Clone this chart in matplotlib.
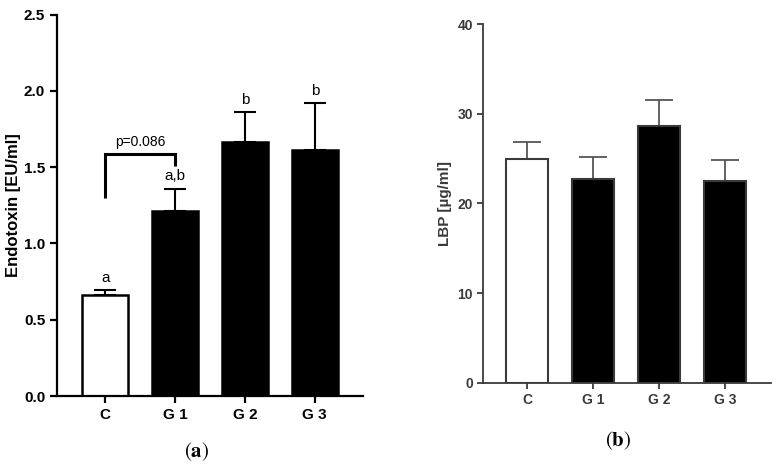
import matplotlib
matplotlib.use("Agg")
import matplotlib.pyplot as plt

groups = ["C", "G 1", "G 2", "G 3"]

# panel a: endotoxin
endo_mean = [0.66, 1.21, 1.667, 1.614]
endo_err = [0.035, 0.15, 0.196, 0.306]
endo_letters = ["a", "a,b", "b", "b"]
endo_ticks = [0.0, 0.5, 1.0, 1.5, 2.0, 2.5]

# panel b: LBP
lbp_mean = [25.0, 22.7, 28.6, 22.5]
lbp_err = [1.8, 2.5, 2.9, 2.3]
lbp_ticks = [0, 10, 20, 30, 40]

bar_colors = ["white", "black", "black", "black"]

plt.rcParams['font.family'] = ['Liberation Sans', 'DejaVu Sans']

fig = plt.figure(figsize=(7.8, 4.71), dpi=100)
x = list(range(len(groups)))

# ---- panel a ----
ax1 = fig.add_axes([0.0731, 0.1592, 0.3923, 0.8096])
ax1.bar(x, endo_mean, width=0.66, color=bar_colors, edgecolor="black", linewidth=1.8, zorder=2)
ax1.errorbar(x, endo_mean, yerr=[[0] * 4, endo_err], fmt="none", ecolor="black",
             elinewidth=1.5, capsize=8, capthick=1.5, zorder=1)
for xi, m, e, lab in zip(x, endo_mean, endo_err, endo_letters):
    ax1.text(xi, m + e + 0.035, lab, ha="center", va="bottom", fontsize=11)

# bracket C vs G1
ax1.plot([0, 0, 1, 1], [1.30, 1.585, 1.585, 1.51], color="black", lw=2.2,
         solid_joinstyle="miter", solid_capstyle="butt")
ax1.text(0.5, 1.62, "p=0.086", ha="center", va="bottom", fontsize=10)

ax1.set_ylim(0, 2.5)
ax1.set_xlim(-0.69, 3.69)
ax1.set_yticks(endo_ticks)
ax1.set_yticklabels([f"{t:.1f}" for t in endo_ticks])
ax1.set_xticks(x)
ax1.set_xticklabels(groups)
ax1.set_ylabel("Endotoxin [EU/ml]", fontsize=12, fontweight="bold", labelpad=2)
for s in ["top", "right"]:
    ax1.spines[s].set_visible(False)
for s in ["left", "bottom"]:
    ax1.spines[s].set_linewidth(1.6)
ax1.tick_params(direction="out", width=1.6, length=5, labelsize=11)
for lab in ax1.get_xticklabels() + ax1.get_yticklabels():
    lab.set_fontweight("bold")

# ---- panel b ----
grey = "#3a3a3a"
ax2 = fig.add_axes([0.6196, 0.1875, 0.3689, 0.7615])
ax2.bar(x, lbp_mean, width=0.64, color=bar_colors, edgecolor=grey, linewidth=1.5, zorder=2)
ax2.errorbar(x, lbp_mean, yerr=[[0] * 4, lbp_err], fmt="none", ecolor="#555555",
             elinewidth=1.3, capsize=10, capthick=1.3, zorder=1)
ax2.set_ylim(0, 40)
ax2.set_xlim(-0.67, 3.7)
ax2.set_yticks(lbp_ticks)
ax2.set_xticks(x)
ax2.set_xticklabels(groups)
ax2.set_ylabel("LBP [\u00b5g/ml]", fontsize=11, fontweight="bold", color=grey, labelpad=4)
for s in ["top", "right"]:
    ax2.spines[s].set_visible(False)
for s in ["left", "bottom"]:
    ax2.spines[s].set_linewidth(1.3)
    ax2.spines[s].set_color(grey)
ax2.tick_params(direction="out", width=1.3, length=4, labelsize=10, colors=grey)
for lab in ax2.get_xticklabels() + ax2.get_yticklabels():
    lab.set_fontweight("bold")

# captions
fig.text(197 / 780, 1 - 452 / 471, r"$(\mathbf{a})$", ha="center", va="center",
         fontsize=15, math_fontfamily="stix")
fig.text(618 / 780, 1 - 441 / 471, r"$(\mathbf{b})$", ha="center", va="center",
         fontsize=15, math_fontfamily="stix")

fig.savefig("out.png", dpi=100)
